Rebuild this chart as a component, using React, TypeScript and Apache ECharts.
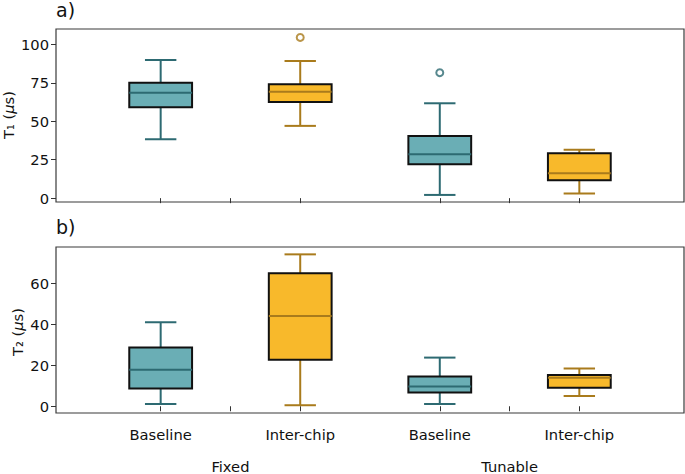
import React, { useEffect, useRef } from "react";
import * as echarts from "echarts";

const categories = ["Baseline", "Inter-chip", "Baseline", "Inter-chip"];
const positions = [1, 2, 3, 4];
const groups = ["Fixed", "Tunable"];
const groupPositions = [1.5, 3.5];
const tickPositions = [1, 1.5, 2, 3, 3.5, 4];

// [min, q1, median, q3, max]
const t1Boxes = [
  [38.3, 59.1, 68.6, 75.1, 89.8],
  [47.0, 62.5, 69.2, 74.0, 89.2],
  [2.1, 22.1, 28.6, 40.5, 61.7],
  [3.0, 11.7, 16.2, 29.2, 31.4],
];
const t1Outliers = [
  [2, 104.5],
  [3, 81.6],
];
const t2Boxes = [
  [1.1, 8.7, 17.9, 28.8, 41.1],
  [0.5, 22.8, 44.1, 65.0, 74.3],
  [1.1, 6.7, 9.7, 14.6, 23.8],
  [5.0, 9.0, 14.0, 15.3, 18.5],
];
const t2Outliers: number[][] = [];
const t1Ticks = [0, 25, 50, 75, 100];
const t2Ticks = [0, 20, 40, 60];

const FILL = ["#6aaeb5", "#f8b92b"];
const DARK = ["#2d6a72", "#a97b1c"];
const FONT = "DejaVu Sans";
const BOX_W = 0.45;

function boxData(boxes: number[][]) {
  return boxes.map((b, i) => [positions[i], ...b, i % 2]);
}
function outlierData(outs: number[][]) {
  return outs.map(([p, v]) => {
    const ci = positions.indexOf(p) % 2;
    return { value: [p, v], itemStyle: { color: "#ffffff", borderColor: DARK[ci], borderWidth: 2 } };
  });
}

function renderBox(params: any, api: any) {
  const x = api.value(0);
  const ci = api.value(6);
  const yMin = api.coord([x, api.value(1)])[1];
  const yQ1 = api.coord([x, api.value(2)])[1];
  const yMed = api.coord([x, api.value(3)])[1];
  const yQ3 = api.coord([x, api.value(4)])[1];
  const yMax = api.coord([x, api.value(5)])[1];
  const cx = api.coord([x, api.value(3)])[0];
  const hw = api.size([BOX_W, 0])[0] / 2;
  const cw = hw / 2;
  const ls = { stroke: DARK[ci], lineWidth: 2 };
  return {
    type: "group",
    children: [
      { type: "line", shape: { x1: cx, y1: yQ1, x2: cx, y2: yMin }, style: ls },
      { type: "line", shape: { x1: cx, y1: yQ3, x2: cx, y2: yMax }, style: ls },
      { type: "line", shape: { x1: cx - cw, y1: yMin, x2: cx + cw, y2: yMin }, style: ls },
      { type: "line", shape: { x1: cx - cw, y1: yMax, x2: cx + cw, y2: yMax }, style: ls },
      {
        type: "rect",
        shape: { x: cx - hw, y: yQ3, width: hw * 2, height: yQ1 - yQ3 },
        style: { fill: FILL[ci], stroke: "#111111", lineWidth: 2 },
      },
      { type: "line", shape: { x1: cx - hw, y1: yMed, x2: cx + hw, y2: yMed }, style: ls },
    ],
  };
}

export default function App() {
  const ref = useRef<HTMLDivElement>(null);
  useEffect(() => {
    if (!ref.current) return;
    const chart = echarts.init(ref.current, null, { renderer: "svg" });
    const labelStyle = { fontFamily: FONT, fontSize: 14.7, color: "#111" };
    const rich = {
      a: { fontFamily: FONT, fontSize: 14.7, fill: "#111", color: "#111" },
      i: { fontFamily: FONT, fontSize: 14.7, fill: "#111", color: "#111", fontStyle: "italic" },
    };
    const xBase = (gridIndex: number, showLabels: boolean) => ({
      type: "value",
      gridIndex,
      min: 0.25,
      max: 4.75,
      axisLine: { show: false },
      splitLine: { show: false },
      axisTick: { show: true, length: 5, customValues: tickPositions, lineStyle: { color: "#333", width: 1 } },
      axisLabel: {
        show: showLabels,
        customValues: positions,
        formatter: (v: number) => categories[positions.indexOf(v)] ?? "",
        margin: 14,
        ...labelStyle,
      },
    });
    const yBase = (gridIndex: number, min: number, max: number, ticks: number[]) => ({
      type: "value",
      gridIndex,
      min,
      max,
      axisLine: { show: false },
      splitLine: { show: false },
      axisTick: { show: true, length: 5, customValues: ticks, lineStyle: { color: "#333", width: 1 } },
      axisLabel: { customValues: ticks, margin: 7, ...labelStyle },
    });
    const yName = (text: string, x: number, y: number) => ({
      type: "text",
      x,
      y,
      rotation: Math.PI / 2,
      style: {
        text,
        rich,
        fontFamily: FONT,
        fontSize: 14.7,
        fill: "#111",
        align: "center",
        verticalAlign: "middle",
      },
    });
    const titleStyle = { fontFamily: FONT, fontSize: 19, fontWeight: "normal", color: "#111" };
    chart.setOption({
      animation: false,
      backgroundColor: "#ffffff",
      title: [
        { text: "a)", left: 56, top: 0, padding: 0, textStyle: titleStyle },
        { text: "b)", left: 56, top: 217, padding: 0, textStyle: titleStyle },
      ],
      grid: [
        { left: 56, width: 628, top: 29, height: 173, show: true, borderColor: "#3a3a3a", borderWidth: 1.2, backgroundColor: "transparent" },
        { left: 56, width: 628, top: 247, height: 174, show: true, borderColor: "#3a3a3a", borderWidth: 1.2, backgroundColor: "transparent" },
      ],
      graphic: [
        yName("{a|T₁ (}{i|μ}{a|s)}", 8, 115),
        yName("{a|T₂ (}{i|μ}{a|s)}", 17, 332),
      ],
      xAxis: [
        xBase(0, false),
        xBase(1, true),
        {
          type: "value",
          gridIndex: 1,
          position: "bottom",
          min: 0.25,
          max: 4.75,
          axisLine: { show: false },
          axisTick: { show: false },
          splitLine: { show: false },
          axisLabel: {
            customValues: groupPositions,
            formatter: (v: number) => groups[groupPositions.indexOf(v)] ?? "",
            margin: 46,
            ...labelStyle,
          },
        },
      ],
      yAxis: [
        yBase(0, -2.5, 110, t1Ticks),
        yBase(1, -3.3, 77.9, t2Ticks),
      ],
      series: [
        { type: "custom", xAxisIndex: 0, yAxisIndex: 0, renderItem: renderBox, data: boxData(t1Boxes), encode: { x: 0, y: [1, 2, 3, 4, 5] } },
        { type: "custom", xAxisIndex: 1, yAxisIndex: 1, renderItem: renderBox, data: boxData(t2Boxes), encode: { x: 0, y: [1, 2, 3, 4, 5] } },
        { type: "scatter", xAxisIndex: 0, yAxisIndex: 0, symbol: "circle", symbolSize: 7, data: outlierData(t1Outliers) },
        { type: "scatter", xAxisIndex: 1, yAxisIndex: 1, symbol: "circle", symbolSize: 7, data: outlierData(t2Outliers) },
      ],
    });
    return () => chart.dispose();
  }, []);
  return <div ref={ref} style={{ width: 685, height: 474, position: "absolute", left: 0, top: 0 }} />;
}
